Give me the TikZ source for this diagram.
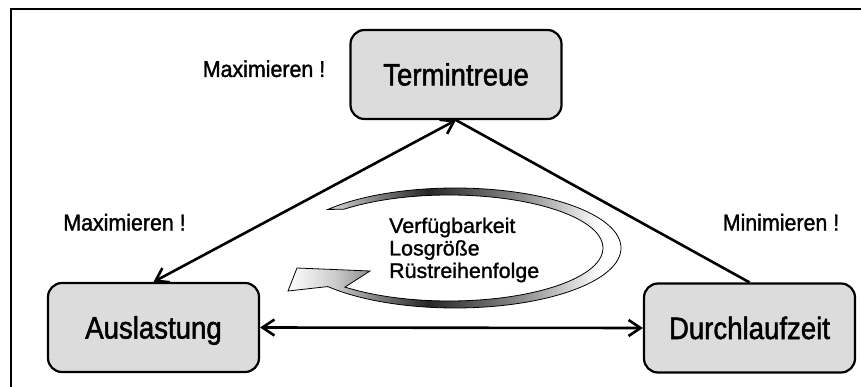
\documentclass[tikz,border=0pt]{standalone}
\usepackage{fontspec}
\setmainfont{Liberation Sans}
\newfontfamily\boxfont{Liberation Sans}[FakeStretch=0.89,FakeBold=1.6]
\newfontfamily\labfont{Liberation Sans}[FakeStretch=0.93,FakeBold=1.4]
\newfontfamily\infont{Liberation Sans}[FakeStretch=1.02,FakeBold=1.3]
\usetikzlibrary{arrows.meta}
\definecolor{boxgray}{RGB}{220,220,220}
\pgfdeclarehorizontalshading{ribbon}{100bp}{color(0bp)=(white); color(25bp)=(white); color(32bp)=(black!20); color(46bp)=(black!85); color(60bp)=(black!45); color(72bp)=(white); color(100bp)=(white)}
\begin{document}
\begin{tikzpicture}[x=1pt,y=-1pt,
  box/.style={draw, line width=2.2pt, fill=boxgray, rounded corners=14pt,
    minimum width=211pt, minimum height=89pt, inner sep=0pt,
    font={\boxfont\fontsize{31pt}{31pt}\selectfont}, text height=22pt, text depth=0pt},
  lab/.style={inner sep=0pt, font={\labfont\fontsize{23pt}{23pt}\selectfont}},
  intext/.style={inner sep=0pt, align=left, font={\infont\fontsize{21pt}{22.5pt}\selectfont}},
  conn/.style={line width=2.6pt},
  tip/.tip={Straight Barb[length=12pt,width=16pt]}
]
\useasboundingbox (0,0) rectangle (861,387);
\draw[line width=2.2pt] (11,387) -- (11,9) -- (861,9);

\shadedraw[shading=ribbon, draw=black, line width=0.8pt]
  plot[smooth, domain=-140:140, samples=70, variable=\t] ({455+166*cos(\t)},{248+60*sin(\t)})
  -- (288,291) -- (297,268) -- (370,271)
  -- plot[smooth, domain=132.5:-133, samples=70, variable=\t] ({449+154*cos(\t)},{248+53*sin(\t)})
  -- cycle;

\node[intext, anchor=west] (txt) at (389,250) {Verfügbarkeit\\Losgröße\\Rüstreihenfolge};

\node[box] (T) at (456,74.5) {Termintreue};
\node[box] (A) at (153.5,327.5) {Auslastung};
\node[box] (D) at (749.5,328) {Durchlaufzeit};

\node[lab, anchor=base] (l1) at (264,77) {Maximieren !};
\node[lab, anchor=base] (l2) at (124.5,230.5) {Maximieren !};
\node[lab, anchor=base] (l3) at (781,230.5) {Minimieren !};

\draw[conn, tip-tip] (T.south) -- (A.north);
\draw[conn] (T.south) -- (D.north);
\draw[conn, tip-tip] (A.east) -- (D.west);
\end{tikzpicture}
\end{document}
